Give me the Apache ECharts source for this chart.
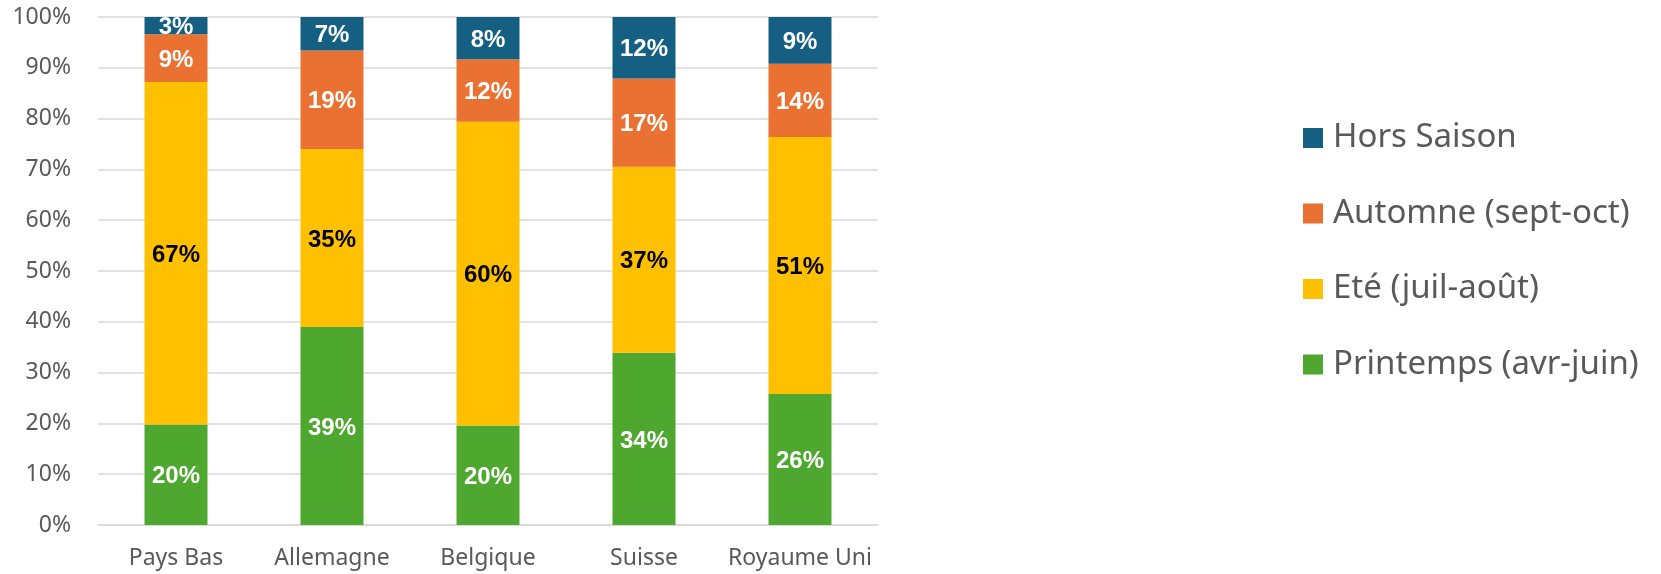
<!DOCTYPE html>
<html>
<head>
<meta charset="utf-8">
<script src="https://cdn.jsdelivr.net/npm/echarts@6/dist/echarts.min.js"></script>
<style>
  html, body { margin: 0; padding: 0; background: #ffffff; }
  #chart { width: 1661px; height: 574px; }
</style>
</head>
<body>
<div id="chart"></div>
<script>
// Countries on the x axis
const countries = ['Pays Bas', 'Allemagne', 'Belgique', 'Suisse', 'Royaume Uni'];

// Share of stays per season (%), stacked bottom to top
const printemps = [19.8, 39.0, 19.6, 33.9, 25.8];
const ete       = [67.4, 35.0, 59.8, 36.6, 50.6];
const automne   = [9.4, 19.4, 12.3, 17.4, 14.4];
const horsSaison = [3.4, 6.6, 8.3, 12.1, 9.2];

const seriesNames = ['Printemps (avr-juin)', 'Eté (juil-août)', 'Automne (sept-oct)', 'Hors Saison'];
const seriesColors = ['#4EA72E', '#FFC000', '#E97132', '#156082'];
const labelColors = ['#ffffff', '#000000', '#ffffff', '#ffffff'];
const seriesValues = [printemps, ete, automne, horsSaison];

const chart = echarts.init(document.getElementById('chart'), null, { renderer: 'canvas' });

const series = seriesNames.map((name, i) => ({
  name: name,
  type: 'bar',
  stack: 'total',
  barWidth: 63,
  data: seriesValues[i],
  itemStyle: { color: seriesColors[i] },
  label: {
    show: true,
    position: 'inside',
    offset: [0, 2],
    formatter: p => Math.round(p.value) + '%',
    color: labelColors[i],
    fontFamily: 'Liberation Sans',
    fontWeight: 'bold',
    fontSize: 24
  }
}));

chart.setOption({
  animation: false,
  backgroundColor: '#ffffff',
  grid: { left: 98, right: 783, top: 17, bottom: 49, outerBoundsMode: 'none' },
  legend: {
    orient: 'vertical',
    left: 1298,
    top: 115,
    itemWidth: 20,
    itemHeight: 20,
    itemGap: 39.5,
    icon: 'rect',
    data: seriesNames.slice().reverse(),
    textStyle: {
      color: '#595959',
      fontFamily: 'Noto Sans',
      fontSize: 33,
      lineHeight: 36,
      padding: [0, 0, 0, 5]
    }
  },
  xAxis: {
    type: 'category',
    data: countries,
    axisLine: { show: true, lineStyle: { color: '#d9d9d9', width: 1.5 } },
    axisTick: { show: false },
    axisLabel: { interval: 0, color: '#595959', fontFamily: 'Noto Sans', fontSize: 23, margin: 22 }
  },
  yAxis: {
    type: 'value',
    min: 0,
    max: 100,
    interval: 10,
    axisLine: { show: false },
    axisTick: { show: false },
    splitLine: { lineStyle: { color: '#d9d9d9', width: 1.5 } },
    axisLabel: { formatter: '{value}%', color: '#595959', fontFamily: 'Noto Sans', fontSize: 23, margin: 27 }
  },
  series: series
});
</script>
</body>
</html>
